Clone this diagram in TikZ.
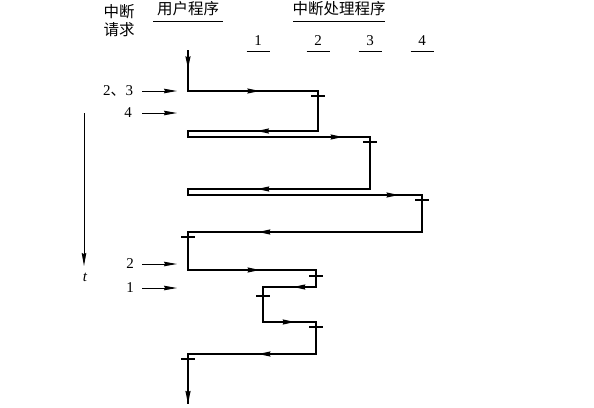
\documentclass[tikz,border=0pt]{standalone}
\usepackage{fontspec}
\setmainfont{Liberation Serif}
\newfontfamily\cjk{Noto Sans CJK SC}
\usetikzlibrary{arrows.meta,decorations.markings}
\begin{document}
\begin{tikzpicture}[x=1pt,y=-1pt,
  line/.style={line width=1.5pt,line join=miter},
  ma/.style={line width=1.5pt,decoration={markings,mark=at position #1 with {\arrow{Stealth[length=12pt,width=5pt,inset=1pt]}}},postaction={decorate}},
  req/.style={line width=1pt,-{Stealth[length=13pt,width=4.5pt,inset=1pt]}},
  tk/.style={line width=1.5pt},
  ul/.style={line width=0.9pt},
  cjkt/.style={font=\cjk\fontsize{15.5}{18}\selectfont,inner sep=0pt},
  num/.style={font=\fontsize{15}{17}\selectfont,inner sep=0pt}]
\useasboundingbox (0,0) rectangle (594,407);
\fill[white] (0,0) rectangle (594,407);

% headers
\node[cjkt] (h1) at (119,12) {中断};
\node[cjkt] (h2) at (119,30) {请求};
\node[cjkt] (up) at (188,9) {用户程序};
\node[cjkt] (ih) at (339,9) {中断处理程序};
\coordinate (upa) at (153,21); \coordinate (upb) at (223,21);
\coordinate (iha) at (293,21); \coordinate (ihb) at (385,21);
\draw[ul] (upa) -- (upb);
\draw[ul] (iha) -- (ihb);
\node[num] (c1) at (258,41) {1};
\node[num] (c2) at (318,41) {2};
\node[num] (c3) at (370,41) {3};
\node[num] (c4) at (422,41) {4};
\foreach \i/\x in {1/258,2/318,3/370,4/422}{
  \coordinate (c\i a) at (\x-11.5,51);
  \coordinate (c\i b) at (\x+11.5,51);
  \draw[ul] (c\i a) -- (c\i b);
}

% interrupt requests
\node[num] (r23) at (118,91) {2{\cjk 、}3};
\node[num] (r4) at (128,113) {4};
\node[num] (r2) at (130,264) {2};
\node[num] (r1) at (130,288) {1};
\foreach \n/\y in {q23/91,q4/113,q2/264,q1/288}{
  \coordinate (\n s) at (142,\y);
  \coordinate (\n e) at (177,\y);
  \draw[req] (\n s) -- (\n e);
}

% time axis
\coordinate (t0) at (84,113);
\coordinate (t1) at (84,266);
\draw[line width=1pt,-{Stealth[length=13pt,width=4.5pt,inset=1pt]}] (t0) -- (t1);
\node[num,font=\fontsize{15}{17}\selectfont\itshape] (tl) at (85,277) {t};

% main path
\coordinate (s) at (188,50);
\coordinate (a1) at (188,91);
\coordinate (a2) at (318,91);
\coordinate (a3) at (318,131);
\coordinate (a4) at (188,131);
\coordinate (a5) at (188,137);
\coordinate (a6) at (370,137);
\coordinate (a7) at (370,189);
\coordinate (a8) at (188,189);
\coordinate (a9) at (188,195);
\coordinate (a10) at (422,195);
\coordinate (a11) at (422,232);
\coordinate (a12) at (188,232);
\coordinate (a13) at (188,270);
\coordinate (a14) at (316,270);
\coordinate (a15) at (316,287);
\coordinate (a16) at (263,287);
\coordinate (a17) at (263,322);
\coordinate (a18) at (316,322);
\coordinate (a19) at (316,354);
\coordinate (a20) at (188,354);
\coordinate (e) at (188,404);

\draw[line] (s) -- (a1) -- (a2) -- (a3) -- (a4) -- (a5) -- (a6) -- (a7) -- (a8) -- (a9)
  -- (a10) -- (a11) -- (a12) -- (a13) -- (a14) -- (a15) -- (a16) -- (a17) -- (a18)
  -- (a19) -- (a20) -- (e);
\draw[line,-{Stealth[length=13pt,width=5pt,inset=1pt]}] (a20) -- (e);

\draw[ma=0.45] (s) -- (a1);
\draw[ma=0.55] (a1) -- (a2);
\draw[ma=0.47] (a3) -- (a4);
\draw[ma=0.85] (a5) -- (a6);
\draw[ma=0.62] (a7) -- (a8);
\draw[ma=0.9] (a9) -- (a10);
\draw[ma=0.70] (a11) -- (a12);
\draw[ma=0.56] (a13) -- (a14);
\draw[ma=0.43] (a15) -- (a16);
\draw[ma=0.6] (a17) -- (a18);
\draw[ma=0.45] (a19) -- (a20);

% ticks
\foreach \n/\x/\y in {k1/318/96,k2/370/142,k3/422/200,k4/188/237,k5/316/276,k6/263/296,k7/316/327,k8/188/359}{
  \coordinate (\n a) at (\x-7,\y);
  \coordinate (\n b) at (\x+7,\y);
  \draw[tk] (\n a) -- (\n b);
}
\end{tikzpicture}
\end{document}
